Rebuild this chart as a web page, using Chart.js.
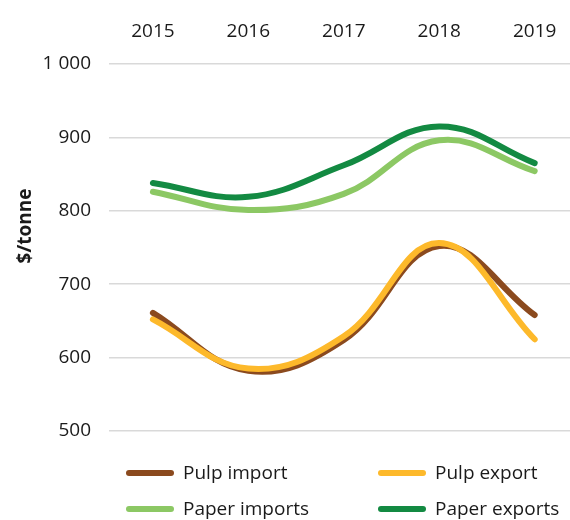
<!DOCTYPE html>
<html>
<head>
<meta charset="utf-8">
<script src="https://cdn.jsdelivr.net/npm/chart.js@4"></script>
<style>
  html, body { margin: 0; padding: 0; background: #fff; }
  canvas { display: block; }
</style>
</head>
<body>
<canvas id="priceChart" width="570" height="520"></canvas>
<script>
// years along the top axis
const years = [2015, 2016, 2017, 2018, 2019];

// average prices, $/tonne
const pulpImport = [661, 582, 624, 752, 658];
const pulpExport = [652, 585, 629, 756, 625];
const paperImports = [826, 801, 823, 896, 854];
const paperExports = [838, 819, 862, 915, 865];

const yTicks = [500, 600, 700, 800, 900, 1000];

const FONT = "'Open Sans', 'Noto Sans', sans-serif";
const TEXT = '#1a1a1a';

function points(values) {
    return years.map((yr, i) => ({ x: yr, y: values[i] }));
}

function thousands(v) {
    return String(v).replace(/\B(?=(\d{3})+(?!\d))/g, ' ');
}

// y title and the two-column legend under the plot
const extrasPlugin = {
    id: 'extras',
    afterDraw(chart) {
        const ctx = chart.ctx;
        ctx.save();

        ctx.fillStyle = TEXT;
        ctx.font = 'bold 19px ' + FONT;
        ctx.textAlign = 'center';
        ctx.textBaseline = 'middle';
        ctx.translate(26, 226);
        ctx.rotate(-Math.PI / 2);
        ctx.fillText('$/tonne', 0, 0);
        ctx.setTransform(1, 0, 0, 1, 0, 0);

        const colX = [126, 378];
        const rowY = [473, 509];
        ctx.font = '19px ' + FONT;
        ctx.textAlign = 'left';
        chart.data.datasets.forEach((ds, i) => {
            const x = colX[i % 2];
            const y = rowY[Math.floor(i / 2)];
            ctx.strokeStyle = ds.borderColor;
            ctx.lineWidth = 6;
            ctx.lineCap = 'round';
            ctx.beginPath();
            ctx.moveTo(x + 3, y);
            ctx.lineTo(x + 45, y);
            ctx.stroke();
            ctx.fillStyle = TEXT;
            ctx.fillText(ds.label, x + 57, y + 1);
        });
        ctx.restore();
    }
};

const lineStyle = {
    borderWidth: 6,
    pointRadius: 0,
    tension: 0.4,
    fill: false,
    borderCapStyle: 'round'
};

new Chart(document.getElementById('priceChart'), {
    type: 'line',
    data: {
        datasets: [
            { label: 'Pulp import', data: points(pulpImport), borderColor: '#8b4a1e', order: 3, ...lineStyle },
            { label: 'Pulp export', data: points(pulpExport), borderColor: '#fdb92b', order: 2, ...lineStyle },
            { label: 'Paper imports', data: points(paperImports), borderColor: '#8cc864', order: 1, ...lineStyle },
            { label: 'Paper exports', data: points(paperExports), borderColor: '#138a42', order: 0, ...lineStyle }
        ]
    },
    options: {
        responsive: false,
        animation: false,
        layout: { padding: { top: 18, right: 0, bottom: 89, left: 0 } },
        plugins: {
            legend: { display: false },
            tooltip: { enabled: false }
        },
        scales: {
            x: {
                type: 'linear',
                position: 'top',
                min: 2014.54,
                max: 2019.37,
                grid: { display: false },
                border: { display: false },
                afterBuildTicks: scale => {
                    scale.ticks = years.map(v => ({ value: v }));
                },
                afterFit: scale => {
                    scale.height = 46;
                    scale.paddingLeft = 0;
                    scale.paddingRight = 0;
                },
                ticks: {
                    padding: 13,
                    color: TEXT,
                    font: { family: FONT, size: 19 },
                    callback: v => String(v)
                }
            },
            y: {
                min: 500,
                max: 1000,
                afterFit: scale => {
                    scale.width = 109;
                    scale.paddingTop = 0;
                    scale.paddingBottom = 0;
                },
                afterBuildTicks: scale => {
                    scale.ticks = yTicks.map(v => ({ value: v }));
                },
                grid: { color: '#d9d9d9', lineWidth: 1.5, drawTicks: false },
                border: { display: false },
                ticks: {
                    padding: 18,
                    color: TEXT,
                    font: { family: FONT, size: 19 },
                    callback: v => thousands(v)
                }
            }
        }
    },
    plugins: [extrasPlugin]
});
</script>
</body>
</html>
